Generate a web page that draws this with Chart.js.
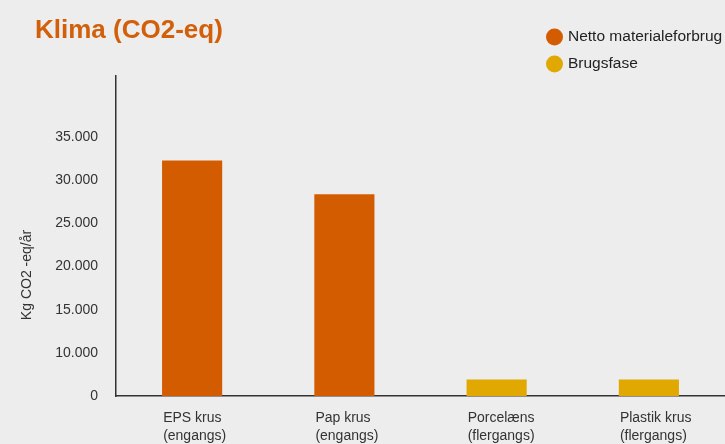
<!DOCTYPE html>
<html>
<head>
<meta charset="utf-8">
<script src="https://cdn.jsdelivr.net/npm/chart.js@4"></script>
<style>
  html, body { margin: 0; padding: 0; background: #ededed; }
  #wrap { width: 725px; height: 444px; position: relative; }
</style>
</head>
<body>
<div id="wrap"><canvas id="c"></canvas></div>
<script>
// Data (the axis' lowest label "0" sits at the 5.000 level)
const chartTitle = "Klima (CO2-eq)";
const yAxisTitle = "Kg CO2 -eq/år";
const categories = [["EPS krus", "(engangs)"], ["Pap krus", "(engangs)"], ["Porcelæns", "(flergangs)"], ["Plastik krus", "(flergangs)"]];
const seriesNames = ["Netto materialeforbrug", "Brugsfase"];
const nettoValues = [32300, 28400, null, null];
const brugsValues = [null, null, 6900, 6900];
const yTickValues = [5000, 10000, 15000, 20000, 25000, 30000, 35000];
const yTickLabels = ["0", "10.000", "15.000", "20.000", "25.000", "30.000", "35.000"];
const seriesColors = ["#d35c00", "#e0a800"];

const overlay = {
  id: 'overlay',
  afterDraw(chart) {
    const ctx = chart.ctx;
    ctx.save();
    // Title
    ctx.fillStyle = "#d2600a";
    ctx.font = "bold 26px 'Liberation Sans', Arial, sans-serif";
    ctx.textBaseline = "alphabetic";
    ctx.textAlign = "left";
    ctx.fillText(chartTitle, 35, 38);
    // Legend
    ctx.font = "15.5px 'Liberation Sans', Arial, sans-serif";
    ctx.textBaseline = "middle";
    chart.data.datasets.forEach((ds, i) => {
      const cy = 37 + i * 27;
      ctx.fillStyle = ds.backgroundColor;
      ctx.beginPath();
      ctx.arc(554.5, cy, 8.5, 0, Math.PI * 2);
      ctx.fill();
      ctx.fillStyle = "#222";
      ctx.fillText(ds.label, 568, cy);
    });
    // Y axis title
    ctx.translate(27, 275);
    ctx.rotate(-Math.PI / 2);
    ctx.textAlign = "center";
    ctx.fillStyle = "#333";
    ctx.font = "14px 'Liberation Sans', Arial, sans-serif";
    ctx.fillText(yAxisTitle, 0, 0);
    ctx.restore();
  }
};

new Chart(document.getElementById('c'), {
  type: 'bar',
  data: {
    labels: categories,
    datasets: [
      { label: seriesNames[0], data: nettoValues, backgroundColor: seriesColors[0] },
      { label: seriesNames[1], data: brugsValues, backgroundColor: seriesColors[1] }
    ]
  },
  options: {
    responsive: true,
    maintainAspectRatio: false,
    animation: false,
    layout: { padding: { top: 76, right: 0, left: 0, bottom: 0 } },
    datasets: { bar: { barPercentage: 0.395, categoryPercentage: 1 } },
    plugins: { legend: { display: false }, title: { display: false }, tooltip: { enabled: false } },
    scales: {
      x: {
        stacked: true,
        grid: { display: false, drawTicks: false },
        border: { display: true, color: '#333', width: 1.5 },
        ticks: {
          align: 'start',
          labelOffset: -29,
          padding: 13,
          color: '#333',
          font: { family: "'Liberation Sans', Arial, sans-serif", size: 14, lineHeight: 1.3 },
          maxRotation: 0,
          autoSkip: false
        },
        afterFit(scale) { scale.height = 48; scale.paddingLeft = 0; scale.paddingRight = 0; }
      },
      y: {
        stacked: true,
        min: 5000,
        max: 42100,
        grid: { display: false, drawTicks: false },
        border: { display: true, color: '#333', width: 1.5 },
        afterBuildTicks(scale) { scale.ticks = yTickValues.map(v => ({ value: v })); },
        ticks: {
          padding: 18,
          color: '#333',
          font: { family: "'Liberation Sans', Arial, sans-serif", size: 14 },
          callback(value) { const i = yTickValues.indexOf(value); return i >= 0 ? yTickLabels[i] : ''; }
        },
        afterFit(scale) { scale.width = 116; scale.paddingTop = 0; scale.paddingBottom = 0; }
      }
    }
  },
  plugins: [overlay]
});
</script>
</body>
</html>
